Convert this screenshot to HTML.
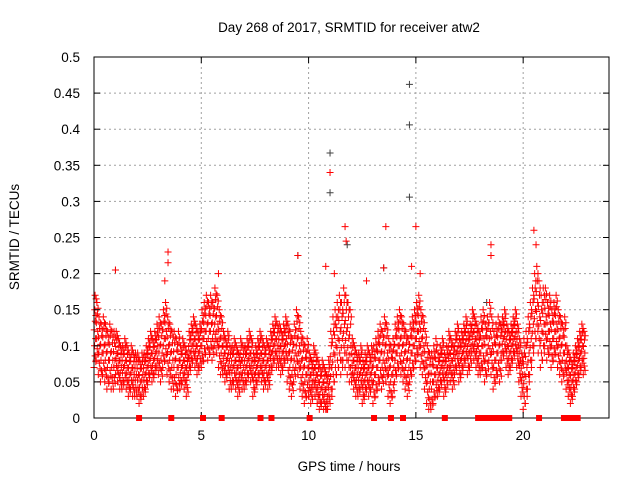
<!DOCTYPE html>
<html><head><meta charset="utf-8"><style>
html,body{margin:0;padding:0;background:#fff;}
svg text{font-family:"Liberation Sans","DejaVu Sans",sans-serif;font-size:13.5px;fill:#000;}
</style></head><body>
<svg id="chart" width="640" height="480" viewBox="0 0 640 480">
<rect width="640" height="480" fill="#fff"/>
<g id="grid"></g>
<g id="gray"></g>
<g id="red"></g>
<rect x="94" y="57" width="515" height="361" fill="none" stroke="#000" stroke-width="1"/>
<g id="axes"></g>
<g id="flags"></g>
<text x="349" y="32" text-anchor="middle">Day 268 of 2017, SRMTID for receiver atw2</text>
<text x="349" y="471" text-anchor="middle">GPS time / hours</text>
<text transform="translate(19,237) rotate(-90)" text-anchor="middle">SRMTID / TECUs</text>
</svg>
<script>
const xTicks=[0,5,10,15,20];
const yTicks=[0,0.05,0.1,0.15,0.2,0.25,0.3,0.35,0.4,0.45,0.5];
const yTickLabels=["0","0.05","0.1","0.15","0.2","0.25","0.3","0.35","0.4","0.45","0.5"];
const midValues=[.11,.12,.1,.09,.1,.09,.08,.09,.08,.08,
.09,.08,.07,.07,.08,.07,.06,.07,.06,.06,
.06,.05,.06,.06,.07,.08,.09,.08,.09,.1,
.1,.09,.11,.12,.1,.09,.08,.08,.07,.08,
.07,.08,.07,.06,.09,.1,.11,.1,.09,.1,
.11,.12,.13,.12,.13,.12,.14,.13,.11,.1,
.09,.08,.09,.07,.07,.08,.07,.06,.08,.07,
.07,.08,.09,.08,.06,.07,.08,.09,.08,.07,
.08,.07,.09,.1,.11,.1,.1,.09,.1,.11,
.09,.08,.07,.09,.11,.1,.08,.07,.06,.07,
.06,.05,.07,.06,.05,.04,.05,.04,.03,.05,
.07,.09,.1,.11,.12,.11,.13,.12,.11,.1,
.08,.07,.06,.06,.07,.05,.06,.07,.06,.07,
.06,.07,.08,.09,.08,.1,.09,.07,.06,.07,
.09,.1,.11,.1,.09,.08,.07,.09,.1,.11,
.12,.13,.11,.1,.08,.06,.05,.05,.06,.07,
.06,.07,.08,.06,.07,.09,.08,.07,.09,.1,
.08,.09,.1,.11,.09,.1,.12,.11,.1,.09,
.1,.11,.09,.1,.12,.1,.08,.09,.1,.09,
.11,.12,.1,.09,.1,.11,.12,.1,.08,.06,
.06,.07,.09,.11,.13,.15,.16,.14,.12,.13,
.14,.12,.13,.11,.12,.13,.11,.1,.09,.1,
.07,.06,.05,.06,.07,.08,.09,.1,.09];
const spreadByHour=[.04,.03,.03,.04,.03,.04,.03,.03,.03,.04,.03,.05,.03,.04,.04,.04,.03,.03,.04,.03,.05,.04,.03];
const outlierTimes=[1.0,3.45,3.45,5.8,9.5,11.0,10.8,11.2,11.7,11.75,12.7,13.5,13.6,14.8,15.0,18.5,18.5,20.5,20.6,0.05,0.1,3.3,15.2];
const outlierValues=[0.205,0.23,0.215,0.2,0.225,0.34,0.21,0.2,0.265,0.245,0.19,0.208,0.265,0.21,0.265,0.24,0.225,0.26,0.24,0.17,0.165,0.19,0.2];
const grayTimes=[11.0,11.0,14.7,14.7,14.7,9.5,13.5,11.8,1.0,18.3];
const grayValues=[0.367,0.312,0.462,0.406,0.306,0.225,0.208,0.24,0.205,0.16];
const flagStarts=[2.1,3.6,5.08,5.95,7.76,8.27,10.05,13.05,13.84,14.4,16.35,17.9,18.65,20.74,21.9,22.54];
const flagEnds=[2.1,3.6,5.08,5.95,7.76,8.27,10.05,13.05,13.84,14.4,16.35,18.4,19.35,20.74,22.3,22.54];

const X0=94,X1=609,Y0=418,Y1=57;
const xs=h=>X0+h/24*(X1-X0);
const ys=v=>Y0-v/0.5*(Y0-Y1);
const NS="http://www.w3.org/2000/svg";
function mk(tag,attrs,parent){const e=document.createElementNS(NS,tag);for(const k in attrs)e.setAttribute(k,attrs[k]);parent.appendChild(e);return e;}
const grid=document.getElementById('grid'),axes=document.getElementById('axes');
xTicks.forEach((t,i)=>{
  const x=xs(t);
  if(t>0){const l=mk('line',{x1:x,x2:x,y1:Y1,y2:Y0,stroke:'#a0a0a0','stroke-dasharray':'2,3'},grid);
  
  }
  const a=mk('line',{x1:x,x2:x,y1:Y0,y2:Y0-6,stroke:'#000'},axes);
  
  
  const b=mk('line',{x1:x,x2:x,y1:Y1,y2:Y1+6,stroke:'#000'},axes);
  
  
  const tx=mk('text',{x:x,y:Y0+22,'text-anchor':'middle'},axes);tx.textContent=String(t);
  
  
});
yTicks.forEach((t,i)=>{
  const y=ys(t);
  if(t>0&&t<0.5){const l=mk('line',{x1:X0,x2:X1,y1:y,y2:y,stroke:'#a0a0a0','stroke-dasharray':'2,3'},grid);
  
  }
  const a=mk('line',{x1:X0,x2:X0+6,y1:y,y2:y,stroke:'#000'},axes);
  
  
  const b=mk('line',{x1:X1,x2:X1-6,y1:y,y2:y,stroke:'#000'},axes);
  
  
  const tx=mk('text',{x:X0-14,y:y+5,'text-anchor':'end'},axes);tx.textContent=yTickLabels[i];
  
  
});
function plus(g,h,v,color){
  const x=xs(h),y=ys(v);
  const p=mk('path',{d:`M${x-3.5},${y}h7M${x},${y-3.5}v7`,stroke:color,'stroke-width':1,fill:'none'},g);
  
  
}
const gray=document.getElementById('gray'),red=document.getElementById('red');
grayTimes.forEach((t,i)=>plus(gray,t,grayValues[i],'#404040'));
const offs=[[-1,0.0],[-0.6,0.5],[-0.25,0.25],[0,0.75],[0.3,0.1],[0.6,0.6],[1,0.35],[-0.8,0.85],[0.8,0.9]];
midValues.forEach((m,i)=>{
  const h=i*0.1,s=spreadByHour[Math.min(23-1,Math.floor(h))];
  offs.forEach(o=>{const v=Math.max(0.012,m+o[0]*s);plus(red,h+o[1]*0.1,v,'#ff0000');});
});
outlierTimes.forEach((t,i)=>plus(red,t,outlierValues[i],'#ff0000'));
const flags=document.getElementById('flags');
flagStarts.forEach((s,i)=>{
  const x0=xs(s)-3,x1=xs(flagEnds[i])+3;
  const r=mk('rect',{x:x0,y:Y0-3,width:x1-x0,height:6,fill:'#ff0000'},flags);
  
  
});
</script>
</body></html>
